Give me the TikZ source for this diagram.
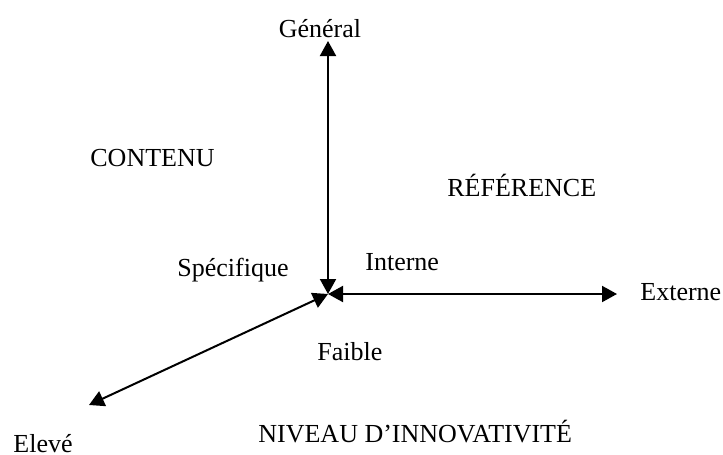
\documentclass[tikz,border=0pt]{standalone}
\usepackage{fontspec}
\setmainfont{Liberation Serif}
\usetikzlibrary{arrows.meta}
\begin{document}
\begin{tikzpicture}[x=0.5pt,y=-0.5pt,
  lbl/.style={inner sep=0pt,font=\fontsize{13pt}{15pt}\selectfont},
  axis/.style={line width=1pt,{Triangle[length=7.5pt,width=8pt]}-{Triangle[length=7.5pt,width=8pt]}}]
\useasboundingbox (0,0) rectangle (723,455);
\coordinate (O) at (328,294);
\coordinate (top) at (328,41);
\coordinate (right) at (617,294);
\coordinate (low) at (89,405);
\draw[axis] (top) -- (O);
\draw[axis] (right) -- (O);
\draw[axis] (low) -- (O);
\node[lbl,anchor=base] (gen) at (320,37) {Général};
\node[lbl,anchor=base west] (cont) at (90,166) {CONTENU};
\node[lbl,anchor=base west] (ref) at (447,196) {RÉFÉRENCE};
\node[lbl,anchor=base west] (spe) at (177,276) {Spécifique};
\node[lbl,anchor=base west] (int) at (365,270) {Interne};
\node[lbl,anchor=base west] (ext) at (640,300) {Externe};
\node[lbl,anchor=base west] (fai) at (317,360) {Faible};
\node[lbl,anchor=base west] (niv) at (258,442) {NIVEAU D’INNOVATIVITÉ};
\node[lbl,anchor=base west] (ele) at (13,452) {Elevé};
\end{tikzpicture}
\end{document}
